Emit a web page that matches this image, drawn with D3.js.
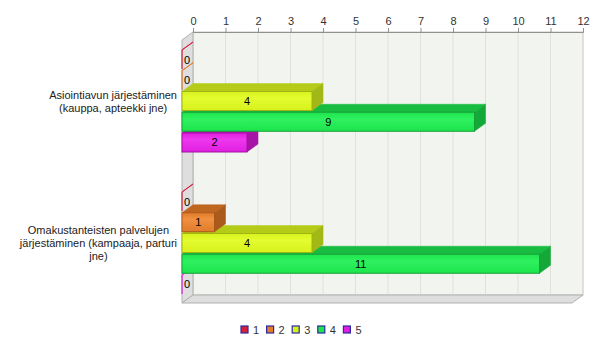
<!DOCTYPE html>
<html><head><meta charset="utf-8">
<script src="https://cdn.jsdelivr.net/npm/d3@7"></script>
<style>body{margin:0;background:#fff;} text{font-family:"Liberation Sans",Arial,sans-serif;}</style>
</head><body>
<svg id="c" width="600" height="342"></svg>
<script>
const categories = [
  ["Asiointiavun järjestäminen", "(kauppa, apteekki jne)"],
  ["Omakustanteisten palvelujen", "järjestäminen (kampaaja, parturi", "jne)"]
];
const seriesNames = ["1", "2", "3", "4", "5"];
const values = [
  [0, 0, 4, 9, 2],
  [0, 1, 4, 11, 0]
];
const xTicks = [0,1,2,3,4,5,6,7,8,9,10,11,12];
const colors = {
  front: ["#d8203c", "#e07c2c", "#d6f21c", "#1ce44c", "#e01ee0"],
  light: ["#e84058", "#f09040", "#e4fc30", "#30f060", "#ee38ee"],
  top:   ["#b01a30", "#c0661e", "#b4cc18", "#18bc40", "#b818b8"],
  side:  ["#a01828", "#aa5a1a", "#a2b816", "#14a838", "#a814a8"],
  edge:  ["#a01828", "#a85818", "#a0b414", "#14a036", "#a012a0"]
};

const svg = d3.select("#c");
const dx = 11, dy = 8;
const x = d3.scaleLinear().domain([0, 12]).range([182, 572]);
const yTopBack = 32, yBotBack = 295;
const yOuter = d3.scaleBand().domain(d3.range(categories.length)).range([30, 314]).padding(0);
const yInner = d3.scaleBand().domain(d3.range(seriesNames.length)).range([0, yOuter.bandwidth()])
  .paddingInner(0.084).paddingOuter(0.964);

const defs = svg.append("defs");
seriesNames.forEach((s, i) => {
  const g = defs.append("linearGradient").attr("id", "g" + i).attr("x1", 0).attr("y1", 0).attr("x2", 0).attr("y2", 1);
  g.append("stop").attr("offset", 0).attr("stop-color", colors.front[i]);
  g.append("stop").attr("offset", 0.35).attr("stop-color", colors.light[i]);
  g.append("stop").attr("offset", 1).attr("stop-color", colors.front[i]);
});

// back wall
const x0 = x(0);
svg.append("rect").attr("x", x0 + dx).attr("y", yTopBack).attr("width", x(12) - x0).attr("height", yBotBack - yTopBack)
  .attr("fill", "#f2f4f0").attr("stroke", "#c8c8c8");
// gridlines
svg.append("g").selectAll("line").data(xTicks.slice(1)).join("line")
  .attr("x1", d => x(d) + dx).attr("x2", d => x(d) + dx)
  .attr("y1", yTopBack).attr("y2", yBotBack).attr("stroke", "#dfe1dd");
// left wall
svg.append("polygon")
  .attr("points", [[x0, yTopBack + dy], [x0 + dx, yTopBack], [x0 + dx, yBotBack], [x0, yBotBack + dy]].join(" "))
  .attr("fill", "#dedede").attr("stroke", "#b0b0b0");
// floor
svg.append("polygon")
  .attr("points", [[x0, yBotBack + dy], [x0 + dx, yBotBack], [x(12) + dx, yBotBack], [x(12), yBotBack + dy]].join(" "))
  .attr("fill", "#dedede").attr("stroke", "#b0b0b0");

// top axis
const axis = d3.axisTop(d3.scaleLinear().domain([0, 12]).range([x0 + dx, x(12) + dx]))
  .tickValues(xTicks).tickSize(4).tickPadding(3).tickFormat(d3.format("d"));
const ag = svg.append("g").attr("transform", `translate(0,${yTopBack})`).call(axis);
ag.select(".domain").attr("stroke", "#909090");
ag.selectAll(".tick line").attr("stroke", "#909090");
ag.selectAll("text").attr("font-size", 11).attr("fill", "#333").attr("font-family", "Liberation Sans, Arial, sans-serif");

// bars (drawn bottom series first so upper bars occlude lower top faces)
const barLayer = svg.append("g");
const labelLayer = svg.append("g");
categories.forEach((cat, ci) => {
  d3.range(seriesNames.length).reverse().forEach(si => {
    const v = values[ci][si];
    const yt = yOuter(ci) + yInner(si);
    const h = yInner.bandwidth();
    const xe = x(v);
    const c = barLayer.append("g");
    c.append("polygon")
      .attr("points", [[x0, yt], [x0 + dx, yt - dy], [xe + dx, yt - dy], [xe, yt]].join(" "))
      .attr("fill", colors.top[si]).attr("stroke", v === 0 ? colors.front[si] : colors.top[si]).attr("stroke-width", v === 0 ? 1 : 0.5);
    if (v > 0) {
      c.append("polygon")
        .attr("points", [[xe, yt], [xe + dx, yt - dy], [xe + dx, yt + h - dy], [xe, yt + h]].join(" "))
        .attr("fill", colors.side[si]).attr("stroke", colors.side[si]).attr("stroke-width", 0.5);
      c.append("rect").attr("x", x0).attr("y", yt).attr("width", xe - x0).attr("height", h)
        .attr("fill", `url(#g${si})`).attr("stroke", colors.edge[si]).attr("stroke-width", 1);
      labelLayer.append("text").attr("x", (x0 + xe) / 2).attr("y", yt + h / 2 + 4).attr("text-anchor", "middle")
        .attr("font-size", 11).attr("fill", "#000").text(v);
    } else {
      c.append("line").attr("x1", x0).attr("x2", x0).attr("y1", yt).attr("y2", yt + h)
        .attr("stroke", colors.front[si]).attr("stroke-width", 1.2);
      labelLayer.append("text").attr("x", x0 + 2).attr("y", yt + h / 2 + 4).attr("text-anchor", "start")
        .attr("font-size", 11).attr("fill", "#000").text(v);
    }
  });
  // category label: block right-aligned at x=177, lines centered within block
  const cy = yOuter(ci) + yOuter.bandwidth() / 2;
  const lh = 13;
  const t = svg.append("text").attr("text-anchor", "middle").attr("font-size", 11).attr("fill", "#222");
  const spans = cat.map((line, li) =>
    t.append("tspan").attr("y", cy - (cat.length - 1) * lh / 2 + li * lh + 4).text(line));
  const maxW = d3.max(spans, s => s.node().getComputedTextLength());
  spans.forEach(s => s.attr("x", 177 - maxW / 2));
});

// legend
const lg = svg.append("g");
const lx = d3.scaleBand().domain(seriesNames).range([241, 369]);
seriesNames.forEach((s, i) => {
  lg.append("rect").attr("x", lx(s)).attr("y", 326).attr("width", 7).attr("height", 7)
    .attr("fill", colors.front[i]).attr("stroke", "#2a2aa0").attr("stroke-width", 1.2);
  lg.append("text").attr("x", lx(s) + 12).attr("y", 334).attr("font-size", 11).attr("fill", "#333").text(s);
});
</script>
</body></html>
